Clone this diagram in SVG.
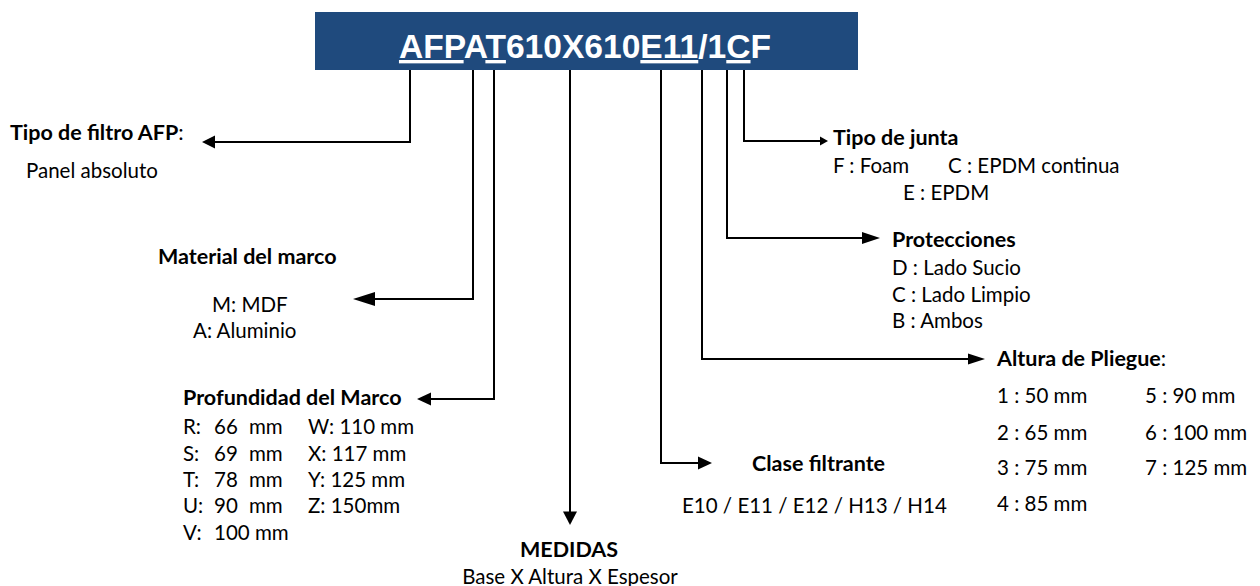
<svg xmlns="http://www.w3.org/2000/svg" width="1260" height="586" viewBox="0 0 1260 586">
<style>
text{font-family:Lato,"Open Sans","DejaVu Sans",sans-serif;font-size:20.5px;fill:#000}
.b{font-weight:bold;font-size:21.5px}
.n{font-weight:normal}
.code{font-family:"Liberation Sans",Arial,sans-serif;font-size:33.6px;font-weight:bold;fill:#fff}
.ul{text-decoration:underline}
.ln{fill:none;stroke:#000;stroke-width:2}
.hd{fill:#000;stroke:none}
</style>
<rect width="1260" height="586" fill="#fff"/>
<g id="header">
<rect x="315" y="12" width="543" height="58" fill="#1F4A7D"/>
<text class="code" x="585" y="58" text-anchor="middle"><tspan class="ul">AFP</tspan>A<tspan class="ul">T</tspan>610X610<tspan class="ul">E11</tspan>/1<tspan class="ul">C</tspan>F</text>
</g>
<g id="connectors">
<path class="ln" d="M410,70 V142 H214"/>
<polygon class="hd" points="202,142 215,135.5 215,148.5"/>
<path class="ln" d="M473,70 V299 H374"/>
<polygon class="hd" points="353,299 375,292 375,306"/>
<path class="ln" d="M494,70 V399 H430"/>
<polygon class="hd" points="417,399 431,392.5 431,405.5"/>
<path class="ln" d="M570,70 V513"/>
<polygon class="hd" points="570,525 563,511.5 577,511.5"/>
<path class="ln" d="M661,70 V463 H699"/>
<polygon class="hd" points="712,463 698,456.5 698,469.5"/>
<path class="ln" d="M702,70 V359 H969"/>
<polygon class="hd" points="985,359 968,353.5 968,364.5"/>
<path class="ln" d="M727,70 V238 H863"/>
<polygon class="hd" points="880,238 862,232 862,244"/>
<path class="ln" d="M744,70 V141 H822"/>
<polygon class="hd" points="828,141 820,136.5 820,145.5"/>
</g>
<g id="tipo-filtro">
<text x="10" y="140" class="b">Tipo de filtro AFP<tspan class="n">:</tspan></text>
<text x="26" y="178">Panel absoluto</text>
</g>
<g id="material">
<text x="158" y="264" class="b">Material del marco</text>
<text x="212" y="312">M: MDF</text>
<text x="193" y="338">A: Aluminio</text>
</g>
<g id="profundidad">
<text x="183" y="405" class="b">Profundidad del Marco</text>
<text x="183" y="434">R:</text><text x="214" y="434">66</text><text x="249" y="434">mm</text><text x="308" y="434">W: 110 mm</text>
<text x="183" y="461">S:</text><text x="214" y="461">69</text><text x="249" y="461">mm</text><text x="308" y="461">X: 117 mm</text>
<text x="183" y="487">T:</text><text x="214" y="487">78</text><text x="249" y="487">mm</text><text x="308" y="487">Y: 125 mm</text>
<text x="183" y="513">U:</text><text x="214" y="513">90</text><text x="249" y="513">mm</text><text x="308" y="513">Z: 150mm</text>
<text x="183" y="540">V:</text><text x="214" y="540">100 mm</text>
</g>
<g id="medidas">
<text x="569" y="557" class="b" text-anchor="middle">MEDIDAS</text>
<text x="570" y="584" text-anchor="middle">Base X Altura X Espesor</text>
</g>
<g id="clase">
<text x="752" y="471" class="b">Clase filtrante</text>
<text x="682" y="513">E10 / E11 / E12 / H13 / H14</text>
</g>
<g id="junta">
<text x="833" y="145" class="b">Tipo de junta</text>
<text x="833" y="173">F : Foam</text>
<text x="948" y="173">C : EPDM continua</text>
<text x="903" y="200">E : EPDM</text>
</g>
<g id="protecciones">
<text x="892" y="247" class="b">Protecciones</text>
<text x="892" y="275">D : Lado Sucio</text>
<text x="892" y="302">C : Lado Limpio</text>
<text x="892" y="328">B : Ambos</text>
</g>
<g id="pliegue">
<text x="997" y="366" class="b">Altura de Pliegue<tspan class="n">:</tspan></text>
<text x="997" y="403">1 : 50 mm</text>
<text x="997" y="440">2 : 65 mm</text>
<text x="997" y="475">3 : 75 mm</text>
<text x="997" y="511">4 : 85 mm</text>
<text x="1145" y="403">5 : 90 mm</text>
<text x="1145" y="440">6 : 100 mm</text>
<text x="1145" y="475">7 : 125 mm</text>
</g>
</svg>
